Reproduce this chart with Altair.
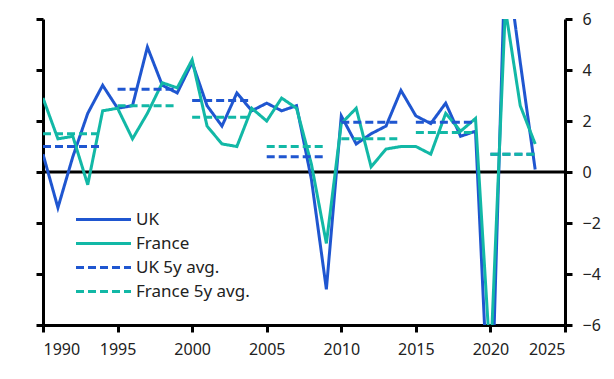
import altair as alt
import pandas as pd

years = list(range(1990, 2024))
uk = [0.7, -1.4, 0.6, 2.3, 3.4, 2.5, 2.6, 4.9, 3.4, 3.1, 4.3, 2.6, 1.8, 3.1, 2.4, 2.7, 2.4, 2.6, -0.3, -4.6,
      2.2, 1.1, 1.5, 1.8, 3.2, 2.2, 1.9, 2.7, 1.4, 1.6, -11.0, 8.7, 4.3, 0.1]
france = [2.9, 1.3, 1.4, -0.5, 2.4, 2.5, 1.3, 2.3, 3.5, 3.3, 4.4, 1.8, 1.1, 1.0, 2.5, 2.0, 2.9, 2.5, 0.3, -2.8,
          1.9, 2.5, 0.2, 0.9, 1.0, 1.0, 0.7, 2.3, 1.6, 2.1, -7.5, 6.4, 2.6, 1.1]

avg_start = [1990, 1995, 2000, 2005, 2010, 2015, 2020]
avg_end = [1994, 1999, 2004, 2009, 2014, 2019, 2023]
uk_avg = [1.0, 3.25, 2.8, 0.6, 1.95, 1.95, 0.7]
france_avg = [1.5, 2.6, 2.15, 1.0, 1.3, 1.55, 0.7]

series = ["UK", "France", "UK 5y avg.", "France 5y avg."]
colors = ["#1f56d0", "#12b8a6", "#1f56d0", "#12b8a6"]
dashes = [[1, 0], [1, 0], [8, 4], [8, 4]]

lines_df = pd.DataFrame({
    "year": years * 2,
    "value": uk + france,
    "series": ["UK"] * len(years) + ["France"] * len(years),
})
avg_df = pd.DataFrame({
    "start": avg_start * 2,
    "end": avg_end * 2,
    "value": uk_avg + france_avg,
    "series": ["UK 5y avg."] * len(avg_start) + ["France 5y avg."] * len(avg_start),
})

FONT = "Noto Sans"
xscale = alt.Scale(domain=[1990, 2025], nice=False, zero=False)
yscale = alt.Scale(domain=[-6, 6], nice=False)
color = alt.Color("series:N", scale=alt.Scale(domain=series, range=colors),
                  legend=alt.Legend(title=None, orient="none", legendX=52, legendY=192,
                                    symbolType="M-5,0L5,0", symbolSize=121, symbolStrokeWidth=3,
                                    labelFontSize=17, labelFont=FONT, labelColor="#222",
                                    rowPadding=6, labelOffset=24))
dash = alt.StrokeDash("series:N", scale=alt.Scale(domain=series, range=dashes), legend=None)

xaxis = alt.Axis(values=list(range(1990, 2026, 5)), format="d", labelFont=FONT, labelFontSize=16,
                 labelColor="#222", domainColor="black", domainWidth=3, tickColor="black",
                 tickWidth=3, tickSize=7, labelPadding=9, grid=False, title=None)
yaxis_left = alt.Axis(values=list(range(-6, 7, 2)), labels=False, domainColor="black", domainWidth=3,
                      tickColor="black", tickWidth=3, tickSize=7, grid=False, title=None)
yaxis_right = alt.Axis(values=list(range(-6, 7, 2)), orient="right", labelFont=FONT, labelFontSize=16,
                       labelColor="#222", domainColor="black", domainWidth=3, tickColor="black",
                       tickWidth=3, tickSize=7, labelPadding=10, grid=False, title=None)

base_lines = alt.Chart(lines_df).mark_line(strokeWidth=3, clip=True).encode(
    x=alt.X("year:Q", scale=xscale, axis=xaxis),
    y=alt.Y("value:Q", scale=yscale, axis=yaxis_left),
    color=color,
    strokeDash=dash,
    order=alt.Order("year:Q"),
)

avg_rules = alt.Chart(avg_df).mark_rule(strokeWidth=3).encode(
    x=alt.X("start:Q", scale=xscale),
    x2="end:Q",
    y=alt.Y("value:Q", scale=yscale, axis=yaxis_right),
    color=color,
    strokeDash=dash,
)

zero = alt.Chart(pd.DataFrame({"z": [0]})).mark_rule(color="black", strokeWidth=3).encode(
    y=alt.Y("z:Q", scale=yscale, axis=None)
)

chart = alt.layer(zero, base_lines, avg_rules).resolve_axis(y="independent").properties(
    width=522, height=306, autosize="none",
    padding={"left": 35, "top": 11, "right": 40, "bottom": 38},
).configure_view(stroke=None)

chart.save("out.html", embed_options={"renderer": "svg", "actions": False})
